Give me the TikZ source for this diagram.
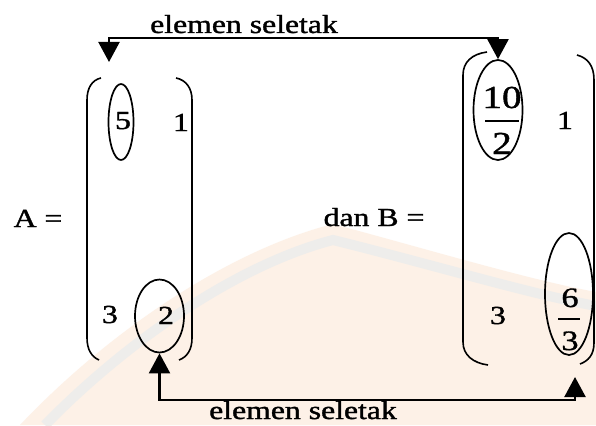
\documentclass[tikz,border=0pt]{standalone}
\usepackage{fontspec}
\setmainfont{Liberation Serif}
\newfontfamily\scanfont{Liberation Serif}[FakeBold=1.2]
\usetikzlibrary{shapes.geometric,arrows.meta}
\definecolor{peach}{RGB}{253,241,231}
\definecolor{wmgray}{RGB}{238,237,235}
\newcommand\wx[1]{\scalebox{1.22}[1]{#1}}
\begin{document}
\begin{tikzpicture}[x=1pt,y=-1pt,
  txt/.style={font=\scanfont\fontsize{26}{30}\selectfont, inner sep=0pt, anchor=base},
  bigtxt/.style={font=\scanfont\fontsize{32}{36}\selectfont, inner sep=0pt, anchor=base},
  midtxt/.style={font=\scanfont\fontsize{28}{32}\selectfont, inner sep=0pt, anchor=base},
  ring/.style={ellipse, draw, line width=1.7pt, inner sep=0pt},
  paren/.style={line width=1.6pt},
  fracbar/.style={line width=1.6pt},
  conn/.style={line width=2.2pt, {Triangle[length=20pt,width=21pt]}-{Triangle[length=20pt,width=21pt]}}]
\useasboundingbox (0,0) rectangle (596,425);
\fill[white] (0,0) rectangle (596,425);
% faint watermark background
\fill[peach] (20,425) .. controls (110,330) and (230,250) .. (333,224) .. controls (430,250) and (530,280) .. (596,292) -- (596,425) -- cycle;
\draw[wmgray, line width=10pt] (45,425) .. controls (130,338) and (240,264) .. (333,240) .. controls (430,264) and (530,294) .. (596,306);

% labels
\node[txt] (lbltop) at (244,33) {\wx{elemen seletak}};
\node[txt] (lblbot) at (303,419) {\wx{elemen seletak}};
\node[txt] (aeq) at (38,227) {\wx{A =}};
\node[txt] (beq) at (374,226) {\wx{dan B =}};

% matrix A
\draw[paren] (101,78) .. controls (92,80) and (87,88) .. (87,100) -- (87,338) .. controls (87,350) and (92,357) .. (99,360);
\draw[paren] (176,78) .. controls (186,80) and (192,88) .. (192,100) -- (192,338) .. controls (192,350) and (187,357) .. (179,360);
\node[txt] (a11) at (123,129) {\wx{5}};
\node[txt] (a12) at (181,131) {\wx{1}};
\node[txt] (a21) at (110,323) {\wx{3}};
\node[txt] (a22) at (166,324) {\wx{2}};
\node[ring, minimum width=25pt, minimum height=76pt] (e5) at (121,122) {};
\node[ring, minimum width=49pt, minimum height=73pt] (e2) at (159.5,316) {};

% matrix B
\draw[paren] (487,52) .. controls (472,54) and (463,62) .. (463,75) -- (463,342) .. controls (463,355) and (473,363) .. (488,365);
\draw[paren] (577,55) .. controls (588,58) and (594,66) .. (594,80) -- (594,343) .. controls (594,355) and (588,361) .. (580,364);
\node[bigtxt] (b11n) at (502,108) {\wx{10}};
\draw[fracbar] (485,121) -- (519,121);
\node[bigtxt] (b11d) at (502,154) {\wx{2}};
\node[txt] (b12) at (565,129) {\wx{1}};
\node[txt] (b21) at (498,324) {\wx{3}};
\node[midtxt] (b22n) at (570,307) {\wx{6}};
\draw[fracbar] (558,319) -- (580,319);
\node[midtxt] (b22d) at (570,350) {\wx{3}};
\node[ring, minimum width=49pt, minimum height=100pt] (e10) at (498,110) {};
\node[ring, minimum width=48pt, minimum height=122pt] (e6) at (569,294) {};

% connectors
\coordinate (tl) at (109,62);
\coordinate (br) at (575,400);
\coordinate (bt) at (575,377);
\draw[conn] (tl) -- ++(0,-24) -| (e10.north);
\draw[conn] (e2.south) |- (br) -- (bt);
\end{tikzpicture}
\end{document}
